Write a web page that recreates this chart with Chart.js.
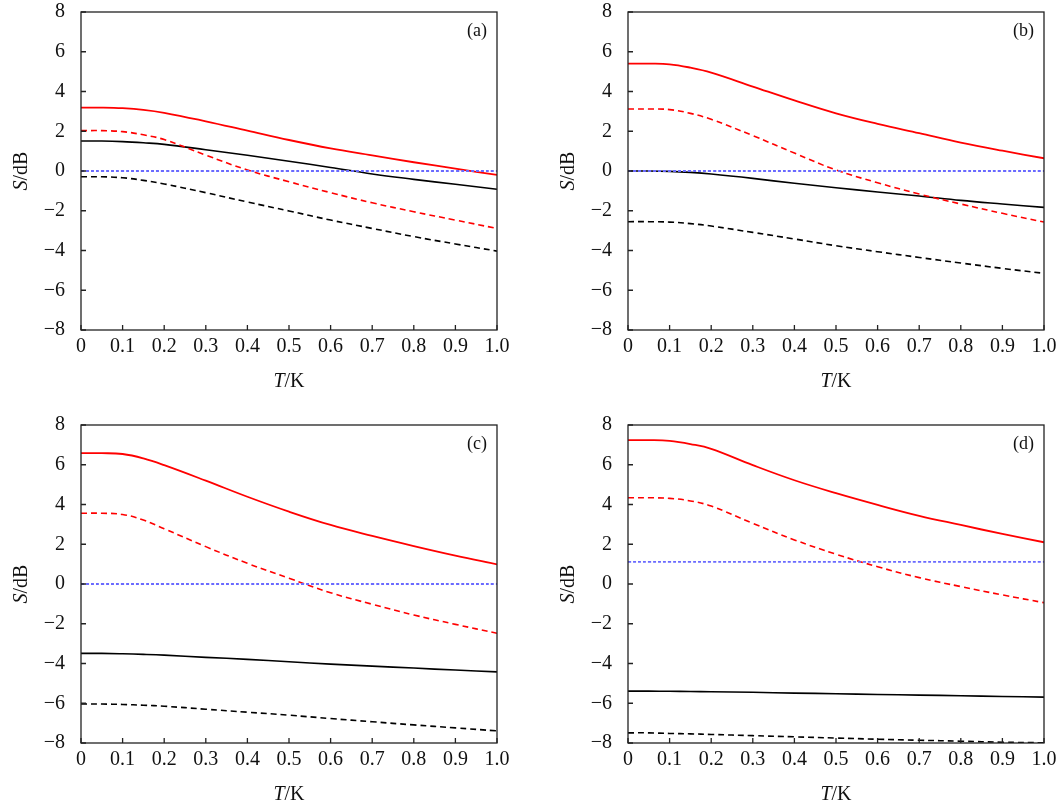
<!DOCTYPE html>
<html>
<head>
<meta charset="utf-8">
<script src="https://cdn.jsdelivr.net/npm/chart.js@4.4.1/dist/chart.umd.min.js"></script>
<style>
  body { margin: 0; background: #fff; }
  .panel { position: absolute; width: 515px; height: 395px; }
</style>
</head>
<body>
<div class="panel" style="left:0;top:0"><canvas id="chartA"></canvas></div>
<div class="panel" style="left:547px;top:0"><canvas id="chartB"></canvas></div>
<div class="panel" style="left:0;top:413px"><canvas id="chartC"></canvas></div>
<div class="panel" style="left:547px;top:413px"><canvas id="chartD"></canvas></div>
<script>
// temperature grid, T/K
var T = [0, 0.05, 0.1, 0.15, 0.2, 0.3, 0.4, 0.5, 0.6, 0.7, 0.8, 0.9, 1.0];

// panel (a)
var aRedSolid   = [3.19, 3.19, 3.16, 3.08, 2.93, 2.5, 2.03, 1.56, 1.14, 0.79, 0.44, 0.12, -0.2];
var aRedDash    = [2.03, 2.03, 1.98, 1.82, 1.58, 0.8, 0.05, -0.54, -1.09, -1.6, -2.05, -2.47, -2.89];
var aBlackSolid = [1.51, 1.51, 1.48, 1.42, 1.34, 1.07, 0.79, 0.49, 0.18, -0.15, -0.42, -0.67, -0.92];
var aBlackDash  = [-0.29, -0.29, -0.34, -0.47, -0.65, -1.09, -1.56, -2.01, -2.47, -2.89, -3.3, -3.67, -4.03];

// panel (b)
var bRedSolid   = [5.4, 5.4, 5.37, 5.2, 4.95, 4.25, 3.55, 2.9, 2.37, 1.9, 1.43, 1.02, 0.64];
var bRedDash    = [3.12, 3.12, 3.09, 2.9, 2.6, 1.78, 0.9, 0.05, -0.59, -1.16, -1.66, -2.13, -2.57];
var bBlackSolid = [0, 0, -0.02, -0.07, -0.15, -0.37, -0.62, -0.84, -1.06, -1.26, -1.48, -1.66, -1.83];
var bBlackDash  = [-2.55, -2.55, -2.57, -2.65, -2.77, -3.09, -3.42, -3.76, -4.06, -4.35, -4.63, -4.9, -5.15];

// panel (c)
var cRedSolid   = [6.58, 6.58, 6.54, 6.32, 5.98, 5.2, 4.39, 3.64, 2.97, 2.42, 1.91, 1.43, 0.99];
var cRedDash    = [3.56, 3.56, 3.5, 3.22, 2.78, 1.88, 1.04, 0.29, -0.44, -1.02, -1.56, -2.03, -2.48];
var cBlackSolid = [-3.49, -3.49, -3.51, -3.54, -3.58, -3.69, -3.79, -3.91, -4.03, -4.13, -4.23, -4.33, -4.42];
var cBlackDash  = [-6.04, -6.04, -6.06, -6.1, -6.15, -6.3, -6.45, -6.6, -6.77, -6.93, -7.09, -7.24, -7.39];

// panel (d)
var dRedSolid   = [7.24, 7.24, 7.2, 7.04, 6.8, 5.98, 5.22, 4.57, 3.98, 3.43, 2.97, 2.52, 2.1];
var dRedDash    = [4.34, 4.34, 4.31, 4.18, 3.92, 3.05, 2.22, 1.5, 0.87, 0.32, -0.13, -0.55, -0.94];
var dBlackSolid = [-5.39, -5.39, -5.4, -5.41, -5.42, -5.45, -5.49, -5.52, -5.56, -5.59, -5.62, -5.66, -5.69];
var dBlackDash  = [-7.49, -7.49, -7.52, -7.54, -7.57, -7.63, -7.69, -7.75, -7.81, -7.86, -7.91, -7.96, -7.99];

// blue dotted reference level in each panel
var blueLevel = [0, 0, 0, 1.11];
var panelLabels = ['(a)', '(b)', '(c)', '(d)'];

var serif = "'Liberation Serif', 'Times New Roman', serif";

function pts(ys) {
    return ys.map(function (y, i) { return { x: T[i], y: y }; });
}

function line(ys, color, width, dash) {
    return {
        data: pts(ys),
        borderColor: color,
        borderWidth: width,
        borderDash: dash,
        pointRadius: 0,
        fill: false,
        tension: 0.4
    };
}

// frame, inward ticks, axis titles and panel label
var decor = {
    id: 'decor',
    afterDraw: function (chart) {
        var c = chart.ctx, a = chart.chartArea;
        var xs = chart.scales.x, ys = chart.scales.y;
        c.save();
        c.strokeStyle = '#222';
        c.lineWidth = 1.3;
        c.beginPath();
        xs.ticks.forEach(function (t) {
            var px = xs.getPixelForValue(t.value);
            c.moveTo(px, a.bottom);
            c.lineTo(px, a.bottom - 5);
        });
        ys.ticks.forEach(function (t) {
            var py = ys.getPixelForValue(t.value);
            c.moveTo(a.left, py);
            c.lineTo(a.left + 5, py);
        });
        c.stroke();
        c.strokeRect(a.left, a.top, a.right - a.left, a.bottom - a.top);

        c.fillStyle = '#111';
        c.textBaseline = 'middle';
        // x title: T/K
        var it = 'italic 20px ' + serif, rm = '20px ' + serif;
        c.font = it; var w1 = c.measureText('T').width;
        c.font = rm; var w2 = c.measureText('/K').width;
        var x0 = (a.left + a.right) / 2 - (w1 + w2) / 2;
        c.textAlign = 'left';
        c.font = it; c.fillText('T', x0, 382);
        c.font = rm; c.fillText('/K', x0 + w1, 382);
        // y title: S/dB
        c.save();
        c.translate(22, (a.top + a.bottom) / 2);
        c.rotate(-Math.PI / 2);
        c.font = it; w1 = c.measureText('S').width;
        c.font = rm; w2 = c.measureText('/dB').width;
        x0 = -(w1 + w2) / 2;
        c.font = it; c.fillText('S', x0, 0);
        c.font = rm; c.fillText('/dB', x0 + w1, 0);
        c.restore();
        // panel label
        c.font = '18px ' + serif;
        c.textAlign = 'right';
        c.fillText(chart.options.plugins.decor.label, a.right - 10, a.top + 19);
        c.restore();
    }
};

function makePanel(id, k, rs, rd, bs, bd) {
    var ctx = document.getElementById(id).getContext('2d');
    return new Chart(ctx, {
        type: 'line',
        data: {
            datasets: [
                line(T.map(function () { return blueLevel[k]; }), '#6a6aff', 1.8, [3, 2]),
                line(rs, '#ff0000', 1.8, []),
                line(rd, '#ff0000', 1.6, [6, 4]),
                line(bs, '#000000', 1.6, []),
                line(bd, '#000000', 1.6, [6, 4])
            ]
        },
        options: {
            responsive: true,
            maintainAspectRatio: false,
            animation: false,
            layout: { padding: { top: 12, right: 18, left: 0, bottom: 0 } },
            plugins: {
                legend: { display: false },
                tooltip: { enabled: false },
                decor: { label: panelLabels[k] }
            },
            scales: {
                x: {
                    type: 'linear',
                    min: 0,
                    max: 1,
                    grid: { display: false },
                    border: { display: false },
                    afterFit: function (s) { s.height = 65; },
                    ticks: {
                        stepSize: 0.1,
                        padding: -3,
                        color: '#111',
                        maxRotation: 0,
                        font: { family: serif, size: 20 },
                        callback: function (v) {
                            if (Math.abs(v) < 1e-9) return '0';
                            return v.toFixed(1);
                        }
                    }
                },
                y: {
                    min: -8,
                    max: 8,
                    grid: { display: false },
                    border: { display: false },
                    afterFit: function (s) { s.width = 81; s.paddingTop = 0; s.paddingBottom = 0; },
                    ticks: {
                        stepSize: 2,
                        padding: 8,
                        color: '#111',
                        font: { family: serif, size: 20 },
                        callback: function (v) {
                            return v < 0 ? '\u2212' + Math.abs(v) : String(v);
                        }
                    }
                }
            }
        },
        plugins: [decor]
    });
}

makePanel('chartA', 0, aRedSolid, aRedDash, aBlackSolid, aBlackDash);
makePanel('chartB', 1, bRedSolid, bRedDash, bBlackSolid, bBlackDash);
makePanel('chartC', 2, cRedSolid, cRedDash, cBlackSolid, cBlackDash);
makePanel('chartD', 3, dRedSolid, dRedDash, dBlackSolid, dBlackDash);
</script>
</body>
</html>
